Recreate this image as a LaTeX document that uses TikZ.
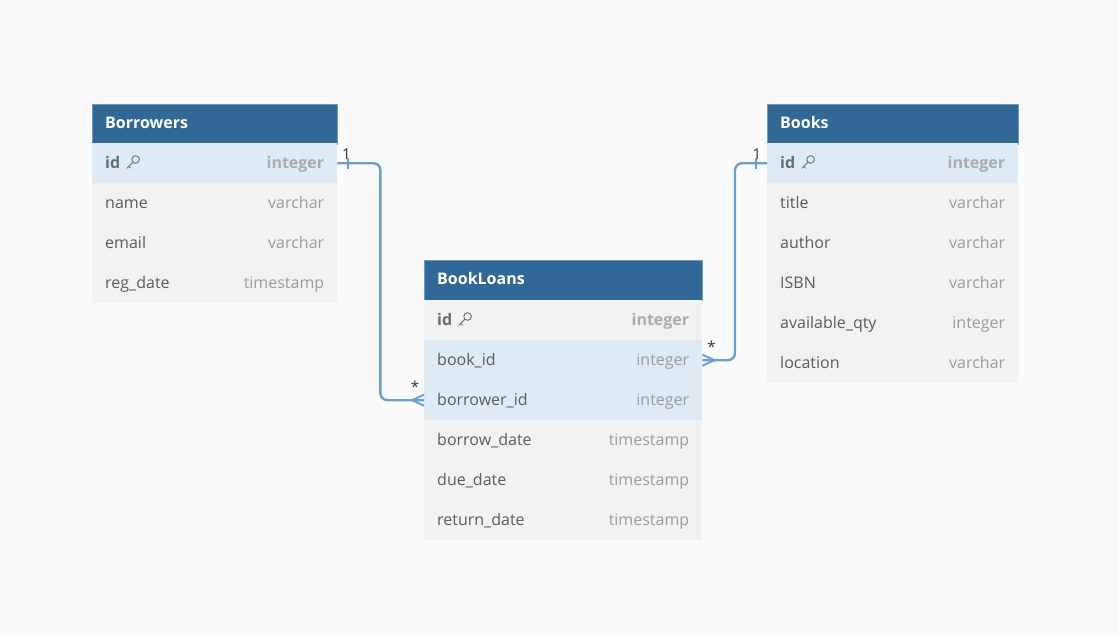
\documentclass[tikz,border=0pt]{standalone}
\usepackage{fontspec}
\setmainfont{Open Sans}
\definecolor{bg}{HTML}{FAFAFA}
\definecolor{hdr}{HTML}{316896}
\definecolor{hdrline}{HTML}{6E9BC4}
\definecolor{rowg}{HTML}{F2F2F2}
\definecolor{rowb}{HTML}{DEEBF5}
\definecolor{fname}{HTML}{5C5C5C}
\definecolor{ftype}{HTML}{9C9C9C}
\definecolor{keyc}{HTML}{7A7A7A}
\definecolor{conn}{HTML}{6A9FD2}
\definecolor{lbl}{HTML}{333333}
\tikzset{
  rowbox/.style={draw=none, inner sep=0pt, minimum height=40pt, anchor=north west},
  hdrbox/.style={fill=hdr, draw=hdrline, line width=0.8pt, inner sep=0pt, minimum height=40pt, anchor=north west},
  htext/.style={text=white, font=\fontsize{16}{19}\selectfont\bfseries, anchor=base west, inner sep=0pt},
  ntext/.style={text=fname, font=\fontsize{16}{19}\selectfont, anchor=base west, inner sep=0pt},
  ttext/.style={text=ftype, font=\fontsize{16}{19}\selectfont, anchor=base east, inner sep=0pt},
  nbold/.style={text=fname!90, font=\fontsize{16}{19}\selectfont\bfseries, anchor=base west, inner sep=0pt},
  tbold/.style={text=ftype!110!black, font=\fontsize{16}{19}\selectfont\bfseries, anchor=base east, inner sep=0pt},
  connector/.style={draw=conn, line width=2.4pt, rounded corners=7pt},
  crow/.style={draw=conn, line width=2pt},
  clabel/.style={text=lbl, font=\fontsize{15}{18}\selectfont, inner sep=0pt},
  keyicon/.pic={
    \draw[keyc, line width=1pt] (3.2,-3.2) circle (3.8pt);
    \draw[keyc, line width=1pt, line cap=round] (0.5,-0.5) -- (-5.5,5.5) (-3.6,3.6) -- (-1.8,5.4);
  }
}
% \erow{name}{x}{y}{width}{fill}{field}{type}
\newcommand\erow[7]{%
  \node[rowbox, fill=#5, minimum width=#4pt] (#1) at (#2,#3) {};
  \draw[white!70!rowg, line width=0.6pt] (#1.south west) -- (#1.south east);
  \node[ntext] (#1n) at ([xshift=13pt,yshift=-5.5pt]#1.west) {#6};
  \node[ttext] (#1t) at ([xshift=-13pt,yshift=-5.5pt]#1.east) {#7};
}
\newcommand\eidrow[6]{%
  \node[rowbox, fill=#5, minimum width=#4pt] (#1) at (#2,#3) {};
  \node[nbold] (#1n) at ([xshift=13pt,yshift=-5.5pt]#1.west) {id};
  \pic at ([xshift=12pt,yshift=6pt]#1n.base east) {keyicon};
  \node[tbold] (#1t) at ([xshift=-13pt,yshift=-5.5pt]#1.east) {#6};
}
\begin{document}
\begin{tikzpicture}[x=1pt,y=-1pt]
\fill[bg] (0,0) rectangle (1119,635);
\useasboundingbox (0,0) rectangle (1119,635);

% Borrowers
\node[hdrbox, minimum width=245pt] (borH) at (92,104) {};
\node[htext] at ([xshift=13pt,yshift=-4pt]borH.west) {Borrowers};
\eidrow{borId}{92}{143}{245}{rowb}{integer}
\erow{borName}{92}{183}{245}{rowg}{name}{varchar}
\erow{borEmail}{92}{223}{245}{rowg}{email}{varchar}
\erow{borReg}{92}{263}{245}{rowg}{reg\_date}{timestamp}

% BookLoans
\node[hdrbox, minimum width=278pt] (blH) at (424,260) {};
\node[htext] at ([xshift=13pt,yshift=-4pt]blH.west) {BookLoans};
\eidrow{blId}{424}{300}{278}{rowg}{integer}
\erow{blBook}{424}{340}{278}{rowb}{book\_id}{integer}
\erow{blBor}{424}{380}{278}{rowb}{borrower\_id}{integer}
\erow{blBD}{424}{420}{278}{rowg}{borrow\_date}{timestamp}
\erow{blDue}{424}{460}{278}{rowg}{due\_date}{timestamp}
\erow{blRet}{424}{500}{278}{rowg}{return\_date}{timestamp}

% Books
\node[hdrbox, minimum width=251pt] (bkH) at (767,104) {};
\node[htext] at ([xshift=13pt,yshift=-4pt]bkH.west) {Books};
\eidrow{bkId}{767}{143}{251}{rowb}{integer}
\erow{bkTitle}{767}{183}{251}{rowg}{title}{varchar}
\erow{bkAuthor}{767}{223}{251}{rowg}{author}{varchar}
\erow{bkIsbn}{767}{263}{251}{rowg}{ISBN}{varchar}
\erow{bkQty}{767}{303}{251}{rowg}{available\_qty}{integer}
\erow{bkLoc}{767}{343}{251}{rowg}{location}{varchar}

% Connector Borrowers.id -> BookLoans.borrower_id
\coordinate (c1) at ([xshift=43pt]borId.east);
\draw[connector] (borId.east) -- (c1) |- (blBor.west);
\draw[crow] ([xshift=11pt]borId.east) ++(0,-5.5) -- ++(0,11);
\draw[crow] ([xshift=-12pt]blBor.west) -- ([yshift=5.5pt]blBor.west);
\draw[crow] ([xshift=-12pt]blBor.west) -- ([yshift=-5.5pt]blBor.west);
\node[clabel] at ([xshift=9pt,yshift=9pt]borId.east) {1};
\node[clabel] at ([xshift=-9pt,yshift=13pt]blBor.west) {*};

% Connector Books.id -> BookLoans.book_id
\coordinate (c2) at ([xshift=-32pt]bkId.west);
\draw[connector] (bkId.west) -- (c2) |- (blBook.east);
\draw[crow] ([xshift=-11pt]bkId.west) ++(0,-5.5) -- ++(0,11);
\draw[crow] ([xshift=12pt]blBook.east) -- ([yshift=5.5pt]blBook.east);
\draw[crow] ([xshift=12pt]blBook.east) -- ([yshift=-5.5pt]blBook.east);
\node[clabel] at ([xshift=-10pt,yshift=9pt]bkId.west) {1};
\node[clabel] at ([xshift=9pt,yshift=13pt]blBook.east) {*};
\end{tikzpicture}
\end{document}
